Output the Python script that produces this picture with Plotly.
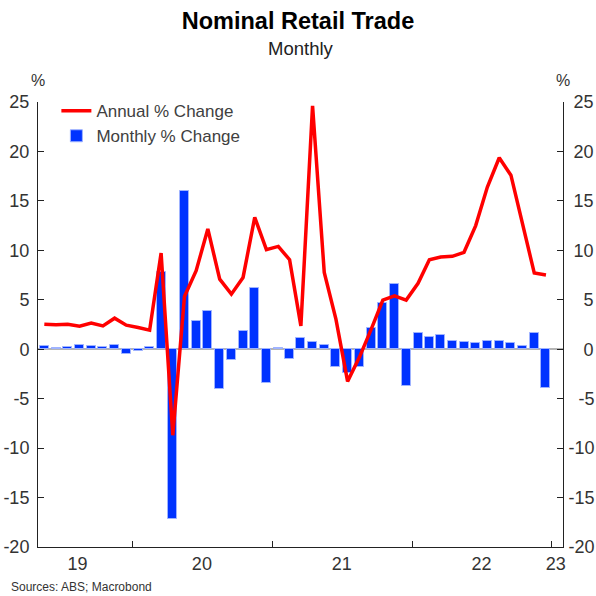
import plotly.graph_objects as go

months = [f"{y}-{m:02d}-01" for y in range(2019, 2023) for m in range(1, 13)][4:]

monthly_pct = [0.35, 0.1, 0.2, 0.47, 0.37, 0.2, 0.44, -0.47,
               -0.2, 0.2, 7.77, -17.2, 15.98, 2.87, 3.89, -4.05, -1.1, 1.86, 6.18, -3.38,
               0.1, -1.0, 1.15, 0.74, 0.4, -1.78, -2.36, -1.78, 2.1, 4.63, 6.59, -3.72,
               1.62, 1.2, 1.42, 0.81, 0.74, 0.63, 0.86, 0.84, 0.6, 0.34, 1.68, -3.95]

annual_pct = [2.53, 2.47, 2.53, 2.33, 2.64, 2.36, 3.14, 2.43,
              2.2, 1.93, 9.73, -8.7, 5.34, 7.94, 12.16, 7.09, 5.57, 7.26, 13.34, 10.07,
              10.4, 9.05, 2.36, 24.6, 7.77, 3.04, -3.25, -0.8, 2.0, 4.97, 5.4, 4.97,
              6.66, 9.05, 9.32, 9.39, 9.8, 12.5, 16.4, 19.36, 17.6, 12.8, 7.7, 7.5]

year_boundaries = ["2020-01-01", "2021-01-01", "2022-01-01", "2023-01-01"]
year_label_pos = ["2019-08-11", "2020-07-01", "2021-07-01", "2022-07-01", "2023-01-11"]
year_labels = ["19", "20", "21", "22", "23"]
y_ticks = [-20, -15, -10, -5, 0, 5, 10, 15, 20, 25]

FONT = "Liberation Sans, Arial, sans-serif"
TICK = 18
x_range = ["2019-04-30", "2023-01-30"]

left_ticktext = [str(v) for v in y_ticks]
# right-hand labels are right-aligned in the reference: pad with no-break spaces
NBSP = "\u00a0"
def _pad(v):
    s = str(v)
    width = len(s.replace("-", "")) * 2 + (1 if v < 0 else 0)  # digit~2 spaces, hyphen~1
    return NBSP * max(0, 5 - width) + s
right_ticktext = [_pad(v) for v in y_ticks]

fig = go.Figure()
fig.add_trace(go.Bar(
    x=months, y=monthly_pct, name="Monthly % Change",
    xperiod="M1", xperiodalignment="middle",
    width=23.5 * 86400000,
    marker=dict(color="#0033ff", line=dict(color="#9fb3ff", width=1)),
    xaxis="x", yaxis="y",
))
fig.add_trace(go.Scatter(
    x=months, y=annual_pct, name="Annual % Change", mode="lines",
    xperiod="M1", xperiodalignment="middle",
    line=dict(color="#ff0000", width=3.5),
    xaxis="x2", yaxis="y2",
))

fig.update_layout(
    width=596, height=596,
    margin=dict(l=38, r=33, t=102, b=49, autoexpand=False),
    paper_bgcolor="white", plot_bgcolor="white",
    font=dict(family=FONT, size=16, color="#333333"),
    title=dict(
        text="<b>Nominal Retail Trade</b>",
        font=dict(size=23.5, color="#000000", family=FONT),
        x=0.5, xanchor="center", y=1 - 21 / 596, yanchor="middle", yref="container",
        automargin=False,
    ),
    showlegend=True,
    legend=dict(
        x=0.035, y=1.02, xanchor="left", yanchor="top",
        bgcolor="rgba(0,0,0,0)", font=dict(size=17, color="#404040"),
        traceorder="reversed", itemwidth=30, tracegroupgap=0,
    ),
    bargap=0,
    xaxis=dict(
        type="date", range=x_range, automargin=False,
        tickvals=year_label_pos, ticktext=year_labels, ticks="",
        showgrid=False, zeroline=False,
        showline=True, linecolor="#222222", linewidth=1,
        tickfont=dict(size=TICK, color="#333333"),
        minor=dict(tickvals=year_boundaries, ticks="inside", ticklen=6,
                   tickcolor="#222222", tickwidth=1, showgrid=False),
    ),
    xaxis2=dict(
        type="date", range=x_range, overlaying="x", anchor="y2", automargin=False,
        showticklabels=False, ticks="", showgrid=False, zeroline=False, showline=False,
    ),
    yaxis=dict(
        range=[-20, 25], tickvals=y_ticks, ticktext=left_ticktext,
        ticks="inside", ticklen=6, automargin=False,
        tickcolor="#222222", showline=True, linecolor="#222222", linewidth=1,
        showgrid=False, zeroline=True, zerolinecolor="#b4b4b4", zerolinewidth=2,
        tickfont=dict(size=TICK, color="#333333"), ticklabelstandoff=4,
    ),
    yaxis2=dict(
        range=[-20, 25], tickvals=y_ticks, ticktext=right_ticktext,
        ticks="inside", ticklen=6, automargin=False,
        tickcolor="#222222", showline=True, linecolor="#222222", linewidth=1,
        overlaying="y", side="right", anchor="x2",
        showgrid=False, zeroline=False,
        tickfont=dict(size=TICK, color="#333333"), ticklabelstandoff=1,
    ),
    annotations=[
        dict(text="Monthly", xref="paper", yref="paper", x=0.5, y=1, xanchor="center",
             yanchor="middle", yshift=102 - 48, showarrow=False,
             font=dict(size=18.5, color="#222222")),
        dict(text="%", xref="paper", yref="paper", x=0, y=1, xanchor="center",
             yanchor="middle", yshift=22, showarrow=False, font=dict(size=16, color="#333333")),
        dict(text="%", xref="paper", yref="paper", x=1, y=1, xanchor="center",
             yanchor="middle", yshift=22, showarrow=False, font=dict(size=16, color="#333333")),
        dict(text="Sources: ABS; Macrobond", xref="paper", yref="paper", x=0, y=0,
             xanchor="left", yanchor="middle", xshift=-29, yshift=-40, showarrow=False,
             font=dict(size=12, color="#333333")),
    ],
)

fig.write_html("out.html", config={"displayModeBar": False},
               post_script="document.body.style.margin='0px';")
